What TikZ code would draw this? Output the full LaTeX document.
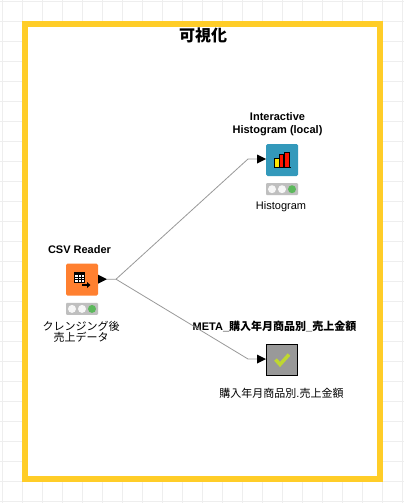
\documentclass[tikz,border=0pt]{standalone}
\usepackage{fontspec}
\setmainfont{Liberation Sans}
\newfontfamily\cjk{Noto Sans CJK JP}
\definecolor{framecol}{HTML}{FFCD28}
\definecolor{gridcol}{HTML}{EEEEEE}
\definecolor{csvcol}{HTML}{FF8030}
\definecolor{histcol}{HTML}{3399BB}
\definecolor{metacol}{HTML}{999999}
\definecolor{lampcol}{HTML}{BFBFBF}
\definecolor{greencol}{HTML}{5CB85C}
\definecolor{checkcol}{HTML}{BFD730}
\newcommand{\lamps}[1]{%
  \node[lampbar] (#1lamp) at ($(#1.south)+(0,13)$) {};
  \node[lamp,fill=white!93!gray] (#1a) at ($(#1lamp.center)+(-10,0)$) {};
  \node[lamp,fill=white!93!gray] (#1b) at (#1lamp.center) {};
  \node[lamp,fill=greencol] (#1c) at ($(#1lamp.center)+(10,0)$) {};
}
\usetikzlibrary{calc}

\begin{document}
\begin{tikzpicture}[x=1pt,y=-1pt]
        %
        % `icon' is the square of a block, `lampbar' and `lamp' its status bar.
        % `port' is the black triangle, `wire' the grey connector.
        \tikzstyle{icon} = [minimum size=32pt,inner sep=0pt,rounded corners=1.5pt]
        \tikzstyle{lampbar} = [fill=lampcol,minimum width=32pt,minimum height=12pt,inner sep=0pt,rounded corners=1pt]
        \tikzstyle{lamp} = [shape=circle,minimum size=8pt,inner sep=0pt]
        \tikzstyle{port} = [fill=black]
        \tikzstyle{wire} = [draw=gray!80,line width=0.8pt]
        \tikzstyle{heading} = [font=\fontsize{11}{13}\selectfont\bfseries,align=center]
        \tikzstyle{caption} = [font=\fontsize{11}{12.5}\selectfont,align=center]
        %
        \useasboundingbox (0,0) rectangle (404,503);
        % Grid
        \foreach \gx in {0,...,20} \draw[gridcol,line width=0.8pt] (2+20*\gx,0) -- (2+20*\gx,503);
        \foreach \gy in {0,...,25} \draw[gridcol,line width=0.8pt] (0,1.5+20*\gy) -- (404,1.5+20*\gy);
        %
        % Frame
        \draw[framecol,line width=6pt,fill=white] (25,24) rectangle (379.7,478.7);
        \node[font=\fontsize{16}{18}\selectfont\bfseries\cjk] (title) at (203,35) {可視化};
        %
        % Column 1
        \node[icon,fill=csvcol] (csv) at (82,279.7) {};
        \lamps{csv}
        \node[heading] (csvhead) at (79.5,250) {CSV Reader};
        \node[caption] (csvcap) at (81,332) {{\cjk クレンジング後}\\[-1pt]{\cjk 売上データ}};
        \draw[black,line width=0.7pt,fill=white] (74.5,272.5) rectangle (84,282);
        \fill[black] (74.5,272.5) rectangle (84,274.5);
        \draw[black,line width=0.4pt] (77.7,274.5) -- (77.7,282) (80.9,274.5) -- (80.9,282) (74.5,277) -- (84,277) (74.5,279.5) -- (84,279.5);
        \draw[black,line width=1.2pt] (82,285) -- (88,285);
        \fill[black] (87,282) -- (90.5,285) -- (87,288) -- cycle;
        \fill[port] (98,274.7) -- (107,279.2) -- (98,283.7) -- cycle;
        %
        % Column 2
        \node[icon,fill=histcol] (hist) at (282,160) {};
        \lamps{hist}
        \node[heading] (histhead) at (277.5,124) {Interactive\\Histogram (local)};
        \node[caption] (histcap) at (281,206.5) {Histogram};
        \draw[black,fill=yellow!90!orange,line width=0.5pt] (274.5,158) rectangle (279,167.5);
        \draw[black,fill=red!85!orange,line width=0.5pt] (279,154) rectangle (283.5,167.5);
        \draw[black,fill=red!85!orange,line width=0.5pt] (284.5,152.5) rectangle (289,167.5);
        \draw[black,line width=0.8pt] (274,167.5) -- (290.5,167.5);
        \fill[port] (257,154.5) -- (266,159) -- (257,163.5) -- cycle;
        %
        \node[icon,fill=metacol,draw=black,line width=0.8pt,rounded corners=0pt,minimum size=31pt] (meta) at (282,360) {};
        \node[heading] (metahead) at (274.5,326) {META\_{\cjk 購入年月商品別}\_{\cjk 売上金額}};
        \node[caption] (metacap) at (281.5,393) {{\cjk 購入年月商品別}.{\cjk 売上金額}};
        \draw[checkcol,line width=3.5pt] (275.5,359.5) -- (280,364.5) -- (289,354.5);
        \fill[port] (257,354.5) -- (266,359) -- (257,363.5) -- cycle;
        %
        % Connectors
        \coordinate (fork) at (116,279.2);
        \coordinate (histin) at (248,159);
        \coordinate (metain) at (248,359);
        \draw[wire] (107,279.2) -- (fork) -- (histin) -- (257,159);
        \draw[wire] (fork) -- (metain) -- (257,359);
        %
\end{tikzpicture}
\end{document}
